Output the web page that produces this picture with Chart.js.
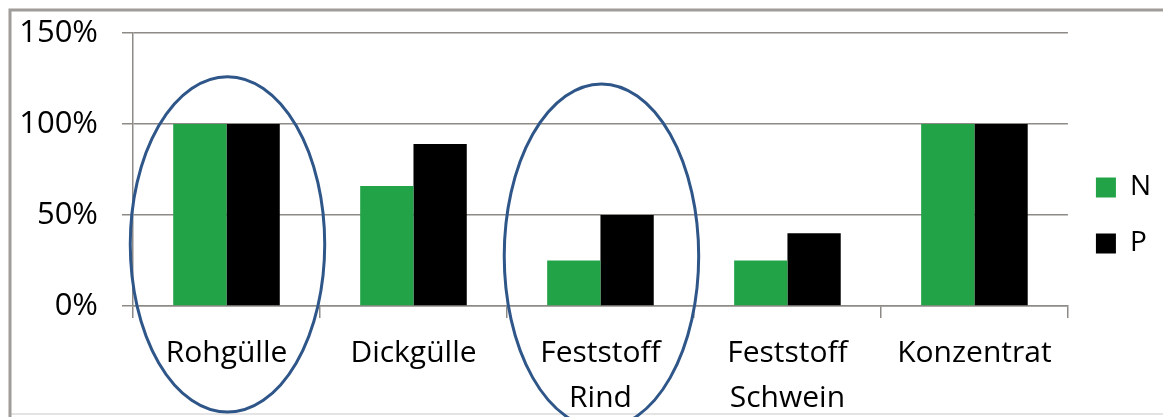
<!DOCTYPE html>
<html>
<head>
<meta charset="utf-8">
<script src="https://cdn.jsdelivr.net/npm/chart.js@4"></script>
<style>
  html, body { margin: 0; padding: 0; background: #fff; }
  #wrap { width: 1163px; height: 417px; }
</style>
</head>
<body>
<div id="wrap"><canvas id="naehrChart" width="1163" height="417"></canvas></div>
<script>
// Prepare the data
const categories = ['Rohgülle', 'Dickgülle', ['Feststoff', 'Rind'], ['Feststoff', 'Schwein'], 'Konzentrat'];
const nValues = [100, 66, 25, 25, 100];
const pValues = [100, 89, 50, 40, 100];
const yTicks = [0, 50, 100, 150];
const circled = [0, 2]; // categories marked with an ellipse

const gridColor = '#8e8a86';

// gray frame round the picture
const framePlugin = {
  id: 'frame',
  beforeDraw(chart) {
    const c = chart.ctx;
    c.save();
    c.fillStyle = '#fff';
    c.fillRect(0, 0, chart.width, chart.height);
    c.strokeStyle = '#e4e4e4';
    c.lineWidth = 2;
    c.beginPath();
    c.moveTo(10, 414);
    c.lineTo(chart.width, 414);
    c.stroke();
    c.strokeStyle = '#a09c99';
    c.lineWidth = 3;
    c.beginPath();
    c.moveTo(10, chart.height);
    c.lineTo(10, 10);
    c.lineTo(chart.width, 10);
    c.stroke();
    c.restore();
  }
};

// blue ellipses drawn over the circled categories
const ellipsePlugin = {
  id: 'ellipses',
  afterDraw(chart) {
    const x = chart.scales.x, y = chart.scales.y;
    const step = x.getPixelForValue(1) - x.getPixelForValue(0);
    const c = chart.ctx;
    c.save();
    c.strokeStyle = '#2f5689';
    c.lineWidth = 3;
    circled.forEach((i, k) => {
      const cx = x.getPixelForValue(i) + 1;
      const top = y.getPixelForValue(k === 0 ? 126 : 122);
      const bottom = chart.chartArea.bottom + (k === 0 ? 106 : 122);
      c.beginPath();
      c.ellipse(cx, (top + bottom) / 2, step * 0.52, (bottom - top) / 2, 0, 0, Math.PI * 2);
      c.stroke();
    });
    c.restore();
  }
};

const ctx = document.getElementById('naehrChart').getContext('2d');
new Chart(ctx, {
  type: 'bar',
  data: {
    labels: categories,
    datasets: [
      { label: 'N', data: nValues, backgroundColor: '#22a348' },
      { label: 'P', data: pValues, backgroundColor: '#000000' }
    ]
  },
  options: {
    responsive: false,
    animation: false,
    layout: { padding: { left: 0, right: 2, top: 14, bottom: 0 } },
    datasets: { bar: { barPercentage: 1, categoryPercentage: 0.57 } },
    font: { family: '"Open Sans", sans-serif' },
    scales: {
      x: {
        grid: { display: true, drawOnChartArea: false, drawTicks: true, tickLength: 12, color: gridColor, lineWidth: 1.5 },
        border: { display: true, color: gridColor, width: 1.5 },
        ticks: {
          color: '#000',
          padding: 13,
          maxRotation: 0,
          autoSkip: false,
          font: { family: '"Open Sans", sans-serif', size: 30, lineHeight: 1.5 }
        },
        afterFit: (s) => { s.height = 111; }
      },
      y: {
        min: 0,
        max: 150,
        afterBuildTicks: (s) => { s.ticks = yTicks.map(v => ({ value: v })); },
        grid: { color: gridColor, lineWidth: 1.5, tickLength: 11 },
        border: { display: true, color: gridColor, width: 1.5 },
        ticks: {
          color: '#000',
          padding: 24,
          font: { family: '"Open Sans", sans-serif', size: 31 },
          callback: (v) => v + '%'
        },
        afterFit: (s) => { s.width = 133; s.paddingTop = 33; s.paddingBottom = 20; }
      }
    },
    plugins: {
      legend: {
        position: 'right',
        labels: {
          boxWidth: 20,
          boxHeight: 20,
          padding: 28,
          color: '#000',
          font: { family: '"Open Sans", sans-serif', size: 28 }
        }
      },
      tooltip: { enabled: false }
    }
  },
  plugins: [framePlugin, ellipsePlugin]
});
</script>
</body>
</html>
